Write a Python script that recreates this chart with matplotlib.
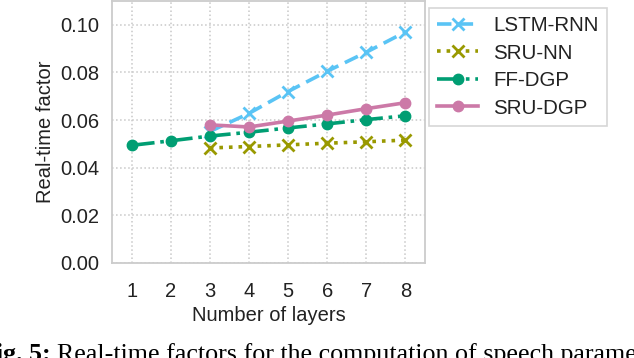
import matplotlib
matplotlib.use("Agg")
import matplotlib.pyplot as plt

layers = [1, 2, 3, 4, 5, 6, 7, 8]
lstm_x = [3, 4, 5, 6, 7, 8]
lstm_rnn = [0.0552, 0.0628, 0.0720, 0.0805, 0.0885, 0.0970]
srunn_x = [3, 4, 5, 6, 7, 8]
sru_nn = [0.0483, 0.0489, 0.0496, 0.0503, 0.0509, 0.0516]
ffdgp_x = [1, 2, 3, 4, 5, 6, 7, 8]
ff_dgp = [0.0494, 0.0513, 0.0533, 0.0549, 0.0567, 0.0584, 0.0602, 0.0618]
srudgp_x = [3, 4, 5, 6, 7, 8]
sru_dgp = [0.0580, 0.0571, 0.0596, 0.0621, 0.0648, 0.0673]
yticks = [0.00, 0.02, 0.04, 0.06, 0.08, 0.10]

plt.rcParams['font.family'] = ['Liberation Sans', 'DejaVu Sans']
FS = 14.5

fig = plt.figure(figsize=(6.34, 3.58), dpi=100)
ax = fig.add_axes([112/634, 1 - 263/358, (425-112)/634, 262/358])

ax.plot(lstm_x, lstm_rnn, linestyle='--', color='#5ac4f5', lw=2.6, marker='x',
        ms=8, mew=2, label='LSTM-RNN', zorder=3, dashes=(4, 2))
ax.plot(srunn_x, sru_nn, linestyle=':', color='#999900', lw=2.6, marker='x',
        ms=8, mew=2, label='SRU-NN', zorder=3)
ax.plot(ffdgp_x, ff_dgp, linestyle='-.', color='#009e73', lw=2.6, marker='o',
        ms=7.5, label='FF-DGP', zorder=4)
ax.plot(srudgp_x, sru_dgp, linestyle='-', color='#cc79a7', lw=2.6, marker='o',
        ms=7.5, label='SRU-DGP', zorder=5)

ax.set_xlim(0.5, 8.5)
ax.set_ylim(0, 0.11)
ax.set_xticks(layers)
ax.set_yticks(yticks)
ax.set_yticklabels([f"{v:.2f}" for v in yticks])
ax.grid(True, linestyle=':', color='#c8c8c8', lw=1.1)
ax.set_axisbelow(True)
for s in ax.spines.values():
    s.set_color('#cccccc')
    s.set_linewidth(1.3)
ax.tick_params(axis='both', length=0, labelsize=FS, colors='#222222')
ax.tick_params(axis='x', pad=14)
ax.tick_params(axis='y', pad=9)
ax.set_xlabel('Number of layers', fontsize=FS, color='#222222', labelpad=3)
ax.set_ylabel('Real-time factor', fontsize=FS, color='#222222', labelpad=4)

leg = ax.legend(loc='upper left', bbox_to_anchor=(429/634, 1 - 8/358),
                bbox_transform=fig.transFigure, fontsize=14.8, frameon=True,
                fancybox=False, handlelength=2.0, borderpad=0.4,
                labelspacing=0.41, handletextpad=0.72, borderaxespad=0)
leg.get_frame().set_edgecolor('#cccccc')
leg.get_frame().set_linewidth(1.2)
for t in leg.get_texts():
    t.set_color('#222222')

fig.text(51/634, -3.5/358, 'Fig. 5:', ha='right', va='baseline',
         family='Liberation Serif', fontweight='bold', fontsize=18.7)
fig.text(57/634, -3.5/358, 'Real-time factors for the computation of speech parameters',
         ha='left', va='baseline', family='Liberation Serif', fontsize=18.7)

fig.savefig('out.png', dpi=100)
